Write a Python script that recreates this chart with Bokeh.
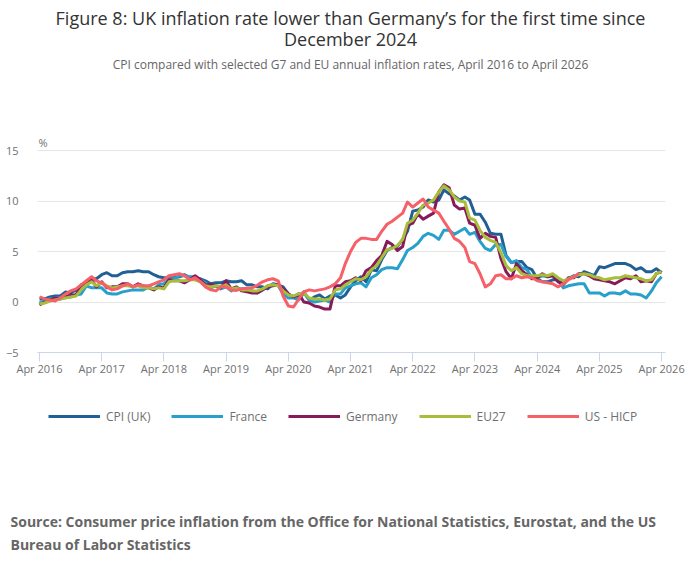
import pandas as pd
from bokeh.plotting import figure
from bokeh.layouts import column
from bokeh.models import (Range1d, MonthsTicker, DatetimeTickFormatter, FixedTicker,
                          Legend, LegendItem, Label)
from bokeh.embed import file_html
from bokeh.resources import INLINE

# ---------------- data (annual rates, %), monthly from April 2016 ----------------
start_month = "2016-04-01"
end_month = "2026-04-01"

cpi_uk = [0.3, 0.3, 0.5, 0.6, 0.6, 1.0, 0.9, 1.2, 1.6,
          1.8, 2.3, 2.3, 2.7, 2.9, 2.6, 2.6, 2.9, 3.0, 3.0, 3.1, 3.0,
          3.0, 2.7, 2.5, 2.4, 2.4, 2.4, 2.5, 2.7, 2.4, 2.4, 2.3, 2.1,
          1.8, 1.9, 1.9, 2.1, 2.0, 2.0, 2.1, 1.7, 1.7, 1.5, 1.5, 1.3,
          1.8, 1.7, 1.5, 0.8, 0.5, 0.6, 1.0, 0.2, 0.5, 0.7, 0.3, 0.6,
          0.7, 0.4, 0.7, 1.5, 2.1, 2.5, 2.0, 3.2, 3.1, 4.2, 5.1, 5.4,
          5.5, 6.2, 7.0, 9.0, 9.1, 9.4, 10.1, 9.9, 10.1, 11.1, 10.7, 10.5,
          10.1, 10.4, 10.1, 8.7, 8.7, 7.9, 6.8, 6.7, 6.7, 4.6, 3.9, 4.0,
          4.0, 3.4, 3.2, 2.3, 2.0, 2.0, 2.2, 2.2, 1.7, 2.3, 2.6, 2.5,
          3.0, 2.8, 2.6, 3.5, 3.4, 3.6, 3.8, 3.8, 3.8, 3.6, 3.2, 3.4,
          3.0, 3.0, 3.3, 2.9]

france = [-0.1, 0.1, 0.3, 0.4, 0.4, 0.5, 0.5, 0.7, 0.8,
          1.6, 1.4, 1.4, 1.4, 0.9, 0.8, 0.8, 1.0, 1.1, 1.2, 1.2, 1.2,
          1.5, 1.3, 1.7, 1.8, 2.3, 2.3, 2.6, 2.6, 2.5, 2.5, 2.2, 1.9,
          1.4, 1.6, 1.3, 1.5, 1.1, 1.4, 1.3, 1.3, 1.1, 0.9, 1.2, 1.6,
          1.7, 1.6, 0.8, 0.4, 0.4, 0.2, 0.9, 0.2, 0.0, 0.1, 0.2, 0.0,
          0.8, 0.8, 1.4, 1.6, 1.8, 1.9, 1.5, 2.4, 2.7, 3.2, 3.4, 3.4,
          3.3, 4.2, 5.1, 5.4, 5.8, 6.5, 6.8, 6.6, 6.2, 7.1, 7.1, 6.7,
          7.0, 7.3, 6.7, 6.9, 6.0, 5.3, 5.1, 5.7, 5.7, 4.5, 3.9, 4.1,
          3.4, 3.2, 2.4, 2.4, 2.6, 2.5, 2.7, 2.2, 1.4, 1.6, 1.7, 1.8,
          1.8, 0.9, 0.9, 0.9, 0.6, 0.9, 0.9, 0.8, 1.1, 0.8, 0.8, 0.7,
          0.4, 1.1, 1.9, 2.5]

germany = [-0.3, 0.0, 0.2, 0.4, 0.3, 0.5, 0.7, 0.7, 1.7,
           1.9, 2.2, 1.5, 2.0, 1.4, 1.5, 1.5, 1.8, 1.8, 1.5, 1.8, 1.6,
           1.4, 1.2, 1.5, 1.4, 2.2, 2.1, 2.1, 1.9, 2.2, 2.6, 2.2, 1.7,
           1.7, 1.6, 1.4, 2.1, 1.3, 1.5, 1.1, 1.0, 0.9, 0.9, 1.2, 1.5,
           1.6, 1.7, 1.3, 0.8, 0.5, 0.8, 0.0, -0.1, -0.4, -0.5, -0.7, -0.7,
           1.6, 1.6, 2.0, 2.1, 2.4, 2.1, 3.1, 3.4, 4.1, 4.6, 6.0, 5.7,
           5.1, 5.5, 7.6, 7.8, 8.7, 8.2, 8.5, 8.8, 10.9, 11.6, 11.3, 9.6,
           9.2, 9.3, 7.8, 7.6, 6.3, 6.8, 6.5, 6.4, 4.3, 3.0, 2.3, 3.8,
           3.1, 2.7, 2.3, 2.4, 2.8, 2.5, 2.6, 2.0, 1.8, 2.4, 2.4, 2.8,
           2.8, 2.6, 2.3, 2.2, 2.1, 2.0, 1.8, 2.1, 2.4, 2.3, 2.6, 2.0,
           2.1, 2.0, 2.8, 3.0]

eu27 = [-0.2, -0.1, 0.1, 0.2, 0.3, 0.4, 0.5, 0.6, 1.2,
        1.7, 2.0, 1.6, 1.9, 1.6, 1.4, 1.5, 1.6, 1.6, 1.5, 1.6, 1.4,
        1.4, 1.3, 1.4, 1.3, 2.0, 2.1, 2.1, 2.1, 2.2, 2.2, 2.0, 1.6,
        1.5, 1.6, 1.5, 1.7, 1.3, 1.4, 1.2, 1.2, 1.1, 1.1, 1.3, 1.6,
        1.7, 1.6, 1.1, 0.7, 0.6, 0.8, 0.9, 0.4, 0.3, 0.3, 0.2, 0.3,
        1.2, 1.3, 1.7, 2.0, 2.3, 2.2, 2.5, 3.2, 3.6, 4.4, 5.2, 5.3,
        5.6, 6.2, 7.8, 8.1, 8.8, 9.6, 9.8, 10.1, 10.9, 11.5, 11.1, 10.4,
        10.0, 9.9, 8.3, 8.1, 7.1, 6.4, 6.1, 5.9, 4.9, 3.6, 3.1, 3.4,
        2.8, 2.6, 2.6, 2.6, 2.7, 2.6, 2.8, 2.4, 2.1, 2.3, 2.5, 2.7,
        2.8, 2.7, 2.5, 2.4, 2.2, 2.3, 2.4, 2.4, 2.6, 2.5, 2.4, 2.3,
        2.1, 2.2, 2.8, 3.0]

us_hicp = [0.5, 0.3, 0.2, 0.1, 0.4, 0.8, 1.1, 1.3, 1.7,
           2.1, 2.5, 2.1, 1.9, 1.5, 1.2, 1.3, 1.6, 1.8, 1.5, 1.7, 1.6,
           1.6, 1.8, 2.0, 2.2, 2.6, 2.7, 2.8, 2.6, 2.2, 2.4, 2.0, 1.5,
           1.2, 1.1, 1.5, 1.5, 1.2, 1.15, 1.3, 1.35, 1.4, 1.65, 2.0, 2.2,
           2.3, 2.1, 0.6, -0.4, -0.5, 0.3, 1.0, 1.2, 1.1, 1.2, 1.3, 1.5,
           1.8, 2.4, 3.8, 5.0, 5.9, 6.3, 6.3, 6.2, 6.2, 7.0, 7.7, 8.0,
           8.4, 8.8, 9.9, 9.4, 9.8, 10.2, 9.4, 9.1, 8.8, 8.0, 7.2, 6.3,
           6.0, 5.4, 4.0, 3.8, 2.8, 1.5, 1.8, 2.6, 2.7, 2.3, 2.3, 2.6,
           2.4, 2.5, 2.4, 2.1, 2.0, 1.9, 1.8, 1.5, 1.8, 2.2, 2.5, 2.8]

series_names = ["CPI (UK)", "France", "Germany", "EU27", "US - HICP"]
series_colors = ["#206095", "#27a0cc", "#871a5b", "#a8bd3a", "#f66068"]
y_ticks = [-5, 0, 5, 10, 15]

title_line1 = "Figure 8: UK inflation rate lower than Germany\u2019s for the first time since"
title_line2 = "December 2024"
subtitle = "CPI compared with selected G7 and EU annual inflation rates, April 2016 to April 2026"
source_line1 = "Source: Consumer price inflation from the Office for National Statistics, Eurostat, and the US"
source_line2 = "Bureau of Labor Statistics"
unit_label = "%"

# ---------------- layout constants ----------------
FONT = "Open Sans"
GREY = "#707070"
W = 692
PX_PER_UNIT = 10.1          # vertical scale of the value axis
FRAME_H = 352               # chart frame reaches the top of the canvas (room for headings)
AXIS_H = 30                 # room for the date axis
FOOT_H = 184                # legend + source strip

dates = pd.date_range(start_month, end_month, freq="MS")
all_series = [cpi_uk, france, germany, eu27, us_hicp]

# ---------------- main chart ----------------
x_range = Range1d(dates[0] - pd.Timedelta(days=12), dates[-1] + pd.Timedelta(days=23))
p = figure(width=W, height=FRAME_H + AXIS_H, x_axis_type="datetime",
           x_range=x_range, y_range=Range1d(-5, -5 + FRAME_H / PX_PER_UNIT),
           output_backend="svg", toolbar_location=None, title=None,
           min_border_left=37, min_border_right=27, min_border_top=0, min_border_bottom=AXIS_H)
p.outline_line_color = None
p.background_fill_color = "white"
p.border_fill_color = "white"

p.xgrid.grid_line_color = None
p.ygrid.grid_line_color = "#e6e6e6"
p.ygrid.ticker = FixedTicker(ticks=y_ticks)

yax = p.yaxis[0]
yax.ticker = FixedTicker(ticks=y_ticks)
yax.axis_line_color = None
yax.major_tick_line_color = None
yax.minor_tick_line_color = None
yax.major_label_standoff = 13
yax.major_label_text_font = FONT
yax.major_label_text_font_size = "11px"
yax.major_label_text_color = GREY

xax = p.xaxis[0]
xax.ticker = MonthsTicker(months=[3])
fmt = "%b %Y"
xax.formatter = DatetimeTickFormatter(years=fmt, months=fmt, days=fmt, hours=fmt,
                                      minutes=fmt, seconds=fmt, milliseconds=fmt,
                                      microseconds=fmt)
xax.axis_line_color = "#ccd6eb"
xax.major_tick_line_color = "#ccd6eb"
xax.major_tick_out = 9
xax.major_tick_in = 0
xax.minor_tick_line_color = None
xax.major_label_standoff = -1
xax.major_label_text_font = FONT
xax.major_label_text_font_size = "11px"
xax.major_label_text_color = GREY

for vals, col in zip(all_series, series_colors):
    p.line(dates[:len(vals)], vals, line_color=col, line_width=3, line_join="round")

def add_label(fig, text, x, y, size, color, align="left", style="normal"):
    fig.add_layout(Label(x=x, y=y, x_units="screen", y_units="screen", text=text,
                         text_align=align, text_baseline="middle", text_font=FONT,
                         text_font_size=size, text_color=color, text_font_style=style))

add_label(p, title_line1, 313, FRAME_H - 17, "18px", "#333333", align="center")
add_label(p, title_line2, 313, FRAME_H - 38, "18px", "#333333", align="center")
add_label(p, subtitle, 313, FRAME_H - 64, "12px", "#666666", align="center")
add_label(p, unit_label, 1, FRAME_H - 142, "11px", GREY)

# ---------------- footer: legend + source ----------------
# same series drawn on a value window that is out of view: only their legend keys show
f = figure(width=W, height=FOOT_H, x_axis_type="datetime", x_range=x_range,
           y_range=Range1d(50, 51),
           output_backend="svg", toolbar_location=None, title=None,
           x_axis_location=None, y_axis_location=None,
           min_border=0, min_border_left=0, min_border_right=0, min_border_top=0, min_border_bottom=0)
f.outline_line_color = None
f.grid.grid_line_color = None
f.background_fill_color = "white"
f.border_fill_color = "white"

for fig in (p, f):
    try:
        fig.frame_align = False
    except AttributeError:
        pass

keys = [f.line(dates[:len(vals)], vals, line_color=c, line_width=3)
        for vals, c in zip(all_series, series_colors)]
legend = Legend(items=[LegendItem(label=n, renderers=[r]) for n, r in zip(series_names, keys)],
                orientation="horizontal", location=(48, FOOT_H - 44),
                glyph_width=52, glyph_height=20, label_height=20, label_standoff=6, spacing=21,
                padding=0, margin=0, border_line_color=None, background_fill_alpha=0,
                label_text_font=FONT, label_text_font_size="12px", label_text_color=GREY)
f.add_layout(legend)

add_label(f, source_line1, 10, FOOT_H - 139, "14px", "#666666", style="bold")
add_label(f, source_line2, 10, FOOT_H - 162, "14px", "#666666", style="bold")

page = column(p, f, spacing=0)
open("out.html", "w", encoding="utf-8").write(file_html(page, INLINE))
